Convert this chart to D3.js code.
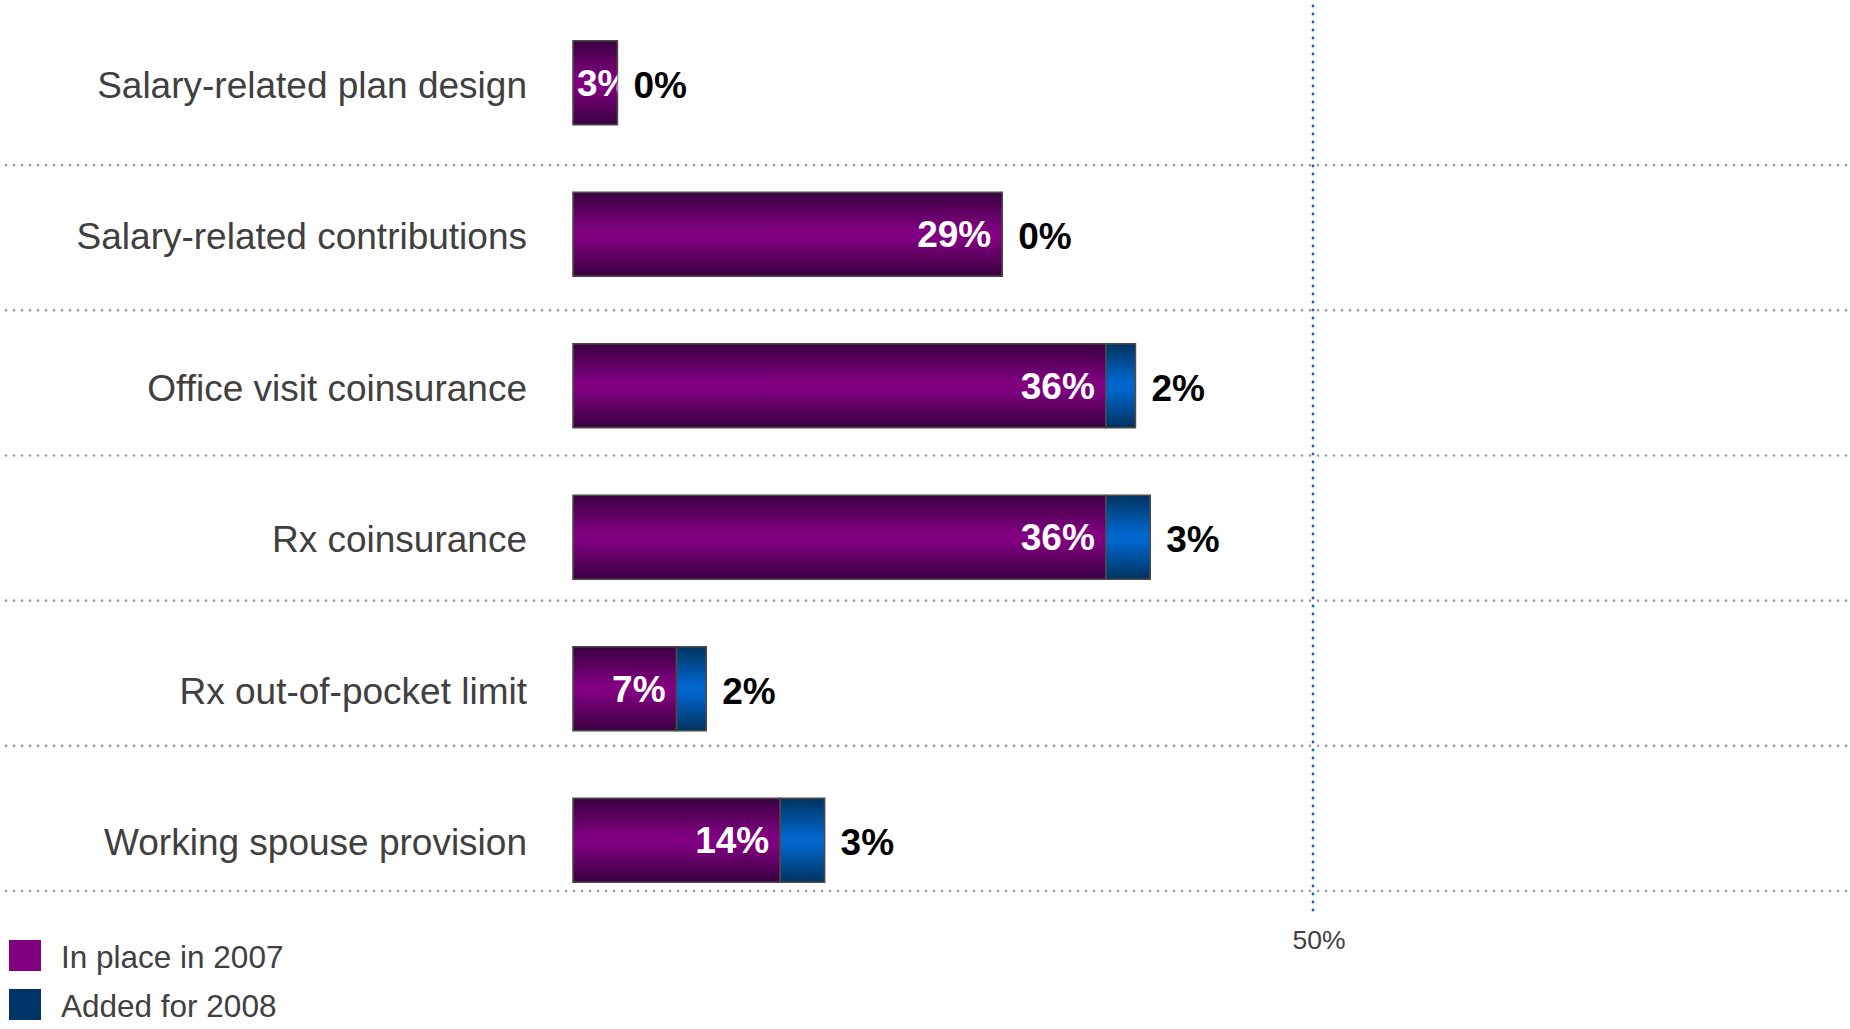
<!DOCTYPE html>
<html>
<head>
<meta charset="utf-8">
<script src="https://cdn.jsdelivr.net/npm/d3@7"></script>
<style>
  html, body { margin: 0; padding: 0; background: #fff; }
  svg { display: block; }
  text { font-family: "Liberation Sans", Arial, sans-serif; }
</style>
</head>
<body>
<svg id="chart" width="1850" height="1029"></svg>
<script>
// Plan design features, share of employers (%)
const categories = [
  "Salary-related plan design",
  "Salary-related contributions",
  "Office visit coinsurance",
  "Rx coinsurance",
  "Rx out-of-pocket limit",
  "Working spouse provision"
];
const inPlace2007 = [3, 29, 36, 36, 7, 14];
const added2008   = [0, 0, 2, 3, 2, 3];
const referenceTicks = [50];
const seriesNames = ["In place in 2007", "Added for 2008"];

const W = 1850, H = 1029;
const svg = d3.select("#chart");

const rows = categories.map((c, i) => ({ cat: c, a: inPlace2007[i], b: added2008[i] }));

const x = d3.scaleLinear().domain([0, 50]).range([573, 1313]);
const y = d3.scaleBand().domain(categories).range([7, 916]).paddingInner(0.446).paddingOuter(0.223);
const yGrid = d3.scaleBand().domain(categories).range([20, 891]);

// gradients for the cylinder-like shading of the bars
const defs = svg.append("defs");
function vGrad(id, edge, mid) {
  const g = defs.append("linearGradient").attr("id", id)
    .attr("x1", 0).attr("y1", 0).attr("x2", 0).attr("y2", 1);
  g.append("stop").attr("offset", "0%").attr("stop-color", edge);
  g.append("stop").attr("offset", "45%").attr("stop-color", mid);
  g.append("stop").attr("offset", "55%").attr("stop-color", mid);
  g.append("stop").attr("offset", "100%").attr("stop-color", edge);
}
vGrad("gPurple", "#3a0040", "#800080");
vGrad("gBlue", "#00335f", "#0066cc");

// horizontal dotted separators between rows
svg.append("g").selectAll("line").data(categories).join("line")
  .attr("x1", 6).attr("x2", W)
  .attr("y1", d => yGrid(d) + yGrid.step())
  .attr("y2", d => yGrid(d) + yGrid.step())
  .attr("stroke", "#999").attr("stroke-width", 2.6)
  .attr("stroke-linecap", "round").attr("stroke-dasharray", "0 8");

// 50% reference line
const ref = svg.append("g");
ref.selectAll("line").data(referenceTicks).join("line")
  .attr("x1", d => x(d)).attr("x2", d => x(d))
  .attr("y1", 6).attr("y2", 912)
  .attr("stroke", "#1060c0").attr("stroke-width", 2.8)
  .attr("stroke-linecap", "round").attr("stroke-dasharray", "0 8");
ref.selectAll("text").data(referenceTicks).join("text")
  .attr("x", d => x(d) + 6).attr("y", 940)
  .attr("dy", "0.35em").attr("text-anchor", "middle")
  .attr("font-size", 26.5).attr("fill", "#404040")
  .text(d => d + "%");

// category labels
svg.append("g").selectAll("text").data(rows).join("text")
  .attr("x", 527).attr("y", d => y(d.cat) + y.bandwidth() / 2 + 2)
  .attr("dy", "0.35em").attr("text-anchor", "end")
  .attr("font-size", 37).attr("fill", "#404040")
  .text(d => d.cat);

// bars
const bars = svg.append("g");
rows.forEach((d, i) => {
  const g = bars.append("g");
  const y0 = y(d.cat), h = y.bandwidth();
  const clipId = "clip" + i;
  defs.append("clipPath").attr("id", clipId).append("rect")
    .attr("x", x(0)).attr("y", y0).attr("width", x(d.a) - x(0)).attr("height", h);

  g.append("rect")
    .attr("x", x(0)).attr("y", y0)
    .attr("width", x(d.a) - x(0)).attr("height", h)
    .attr("fill", "url(#gPurple)").attr("stroke", "#4a4a4a").attr("stroke-width", 1.6);

  if (d.b > 0) {
    g.append("rect")
      .attr("x", x(d.a)).attr("y", y0)
      .attr("width", x(d.a + d.b) - x(d.a)).attr("height", h)
      .attr("fill", "url(#gBlue)").attr("stroke", "#4a4a4a").attr("stroke-width", 1.6);
  }

  // value in place in 2007, inside the bar
  const lbl = g.append("text")
    .attr("y", y0 + h / 2).attr("dy", "0.35em")
    .attr("font-size", 37).attr("font-weight", "bold").attr("fill", "#fff")
    .attr("clip-path", `url(#${clipId})`)
    .text(d.a + "%");
  const tw = lbl.node().getComputedTextLength();
  if (tw + 16 > x(d.a) - x(0)) {
    lbl.attr("x", x(0) + 4).attr("text-anchor", "start");
  } else {
    lbl.attr("x", x(d.a) - 11).attr("text-anchor", "end");
  }

  // value added for 2008, outside the bar
  g.append("text")
    .attr("x", x(d.a + d.b) + 16).attr("y", y0 + h / 2 + 2).attr("dy", "0.35em")
    .attr("font-size", 37).attr("font-weight", "bold").attr("fill", "#000")
    .text(d.b + "%");
});

// legend
const legendColors = ["#800080", "#003366"];
const lg = svg.append("g").selectAll("g").data(seriesNames).join("g")
  .attr("transform", (d, i) => `translate(9, ${940 + i * 49})`);
lg.append("rect").attr("width", 32).attr("height", 31)
  .attr("fill", (d, i) => legendColors[i]);
lg.append("text").attr("x", 52).attr("y", 17).attr("dy", "0.35em")
  .attr("font-size", 31.5).attr("fill", "#404040")
  .text(d => d);
</script>
</body>
</html>
